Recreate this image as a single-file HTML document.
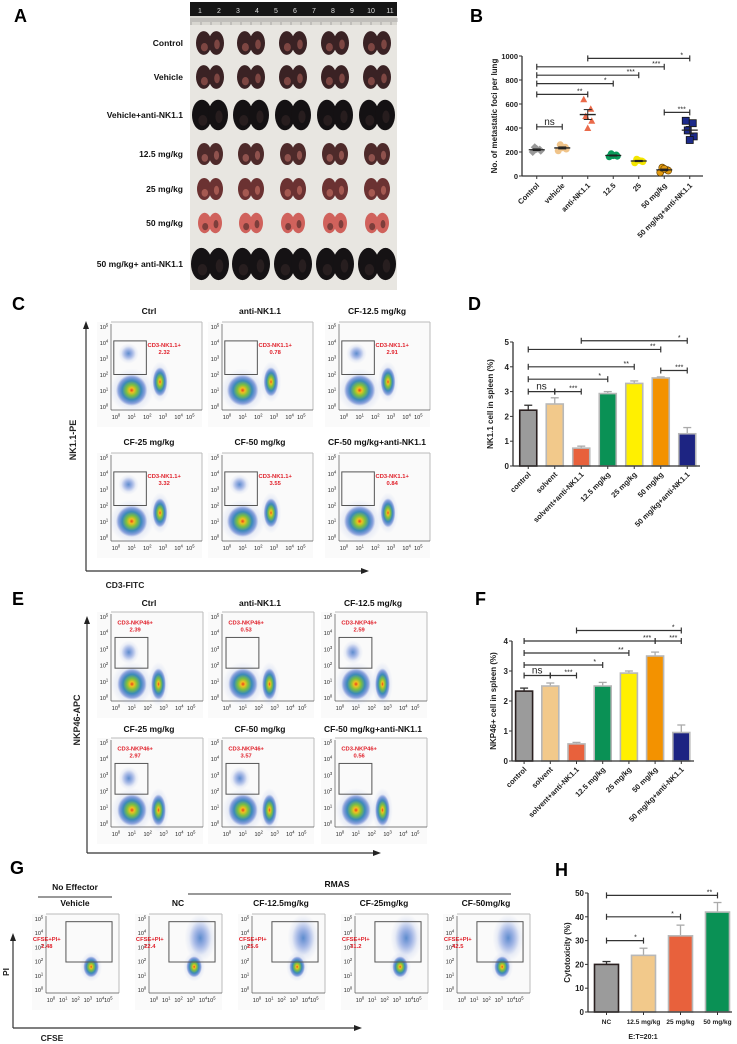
<!DOCTYPE html>
<html><head><meta charset="utf-8"><style>
html,body{margin:0;padding:0;background:#fff}
svg{display:block;font-family:"Liberation Sans",Arial,sans-serif}
</style></head><body>
<svg id="fig" width="737" height="1044" viewBox="0 0 737 1044" xmlns="http://www.w3.org/2000/svg">
<defs>
<radialGradient id="dens" cx="50%" cy="50%" r="50%">
<stop offset="0" stop-color="#e8401c"/><stop offset="0.15" stop-color="#f0c020"/><stop offset="0.35" stop-color="#7cc040"/><stop offset="0.6" stop-color="#3a8ab8"/><stop offset="0.85" stop-color="#3c64c8" stop-opacity="0.5"/><stop offset="1" stop-color="#5a78d0" stop-opacity="0"/>
</radialGradient>
<radialGradient id="densB" cx="50%" cy="50%" r="50%">
<stop offset="0" stop-color="#4a7fc8" stop-opacity="0.8"/><stop offset="0.5" stop-color="#6a8ad8" stop-opacity="0.45"/><stop offset="1" stop-color="#8aa0e0" stop-opacity="0"/>
</radialGradient>
</defs>
</svg>
<script>
// ---------- data ----------
const bCats=['Control','vehicle','anti-NK1.1','12.5','25','50 mg/kg','50 mg/kg+anti-NK1.1'];
const bPts=[[200,220,240,210,225],[210,240,260,225,235],[640,560,500,460,400],[160,175,185,165,170],[110,125,140,120,130],[30,50,70,45,60],[460,440,380,330,300]];
const bTicks=[0,200,400,600,800,1000];
const bSig=[[0,1,410,'ns'],[0,2,680,'**'],[0,3,770,'*'],[0,4,840,'***'],[0,5,910,'***'],[2,6,980,'*'],[5,6,530,'***']];
const dCats=['control','solvent','solvent+anti-NK1.1','12.5 mg/kg','25 mg/kg','50 mg/kg','50 mg/kg+anti-NK1.1'];
const dVals=[2.25,2.5,0.72,2.92,3.33,3.55,1.3];
const dErr=[0.2,0.25,0.08,0.08,0.1,0.04,0.25];
const dTicks=[0,1,2,3,4,5];
const dSig=[[0,1,3,'ns'],[1,2,3,'***'],[0,3,3.5,'*'],[0,4,4,'**'],[0,5,4.7,'**'],[2,6,5.05,'*'],[5,6,3.85,'***']];
const fVals=[2.33,2.5,0.57,2.5,2.93,3.5,0.95];
const fErr=[0.1,0.1,0.05,0.12,0.07,0.13,0.25];
const fTicks=[0,1,2,3,4];
const fSig=[[0,1,2.85,'ns'],[1,2,2.85,'***'],[0,3,3.2,'*'],[0,4,3.6,'**'],[0,5,4,'***'],[5,6,4,'***'],[2,6,4.35,'*']];
const hCats=['NC','12.5 mg/kg','25 mg/kg','50 mg/kg'];
const hVals=[20,23.8,32,42];
const hErr=[1.2,3,4.5,4];
const hTicks=[0,10,20,30,40,50];
const hSig=[[0,1,30,'*'],[0,2,40,'*'],[0,3,49,'**']];
const cTitles=['Ctrl','anti-NK1.1','CF-12.5 mg/kg','CF-25 mg/kg','CF-50 mg/kg','CF-50 mg/kg+anti-NK1.1'];
const cPct=['2.32','0.78','2.91','3.32','3.55','0.84'];
const ePct=['2.39','0.53','2.59','2.97','3.57','0.56'];
const gTitles=['Vehicle','NC','CF-12.5mg/kg','CF-25mg/kg','CF-50mg/kg'];
const gPct=['2.48','22.4','25.6','31.2','42.5'];

const NS='http://www.w3.org/2000/svg';
const svg=document.getElementById('fig');
function mk(tag,attrs,name,parent){
  const el=document.createElementNS(NS,tag);
  for(const k in attrs) el.setAttribute(k,attrs[k]);
  
  
  (parent||svg).appendChild(el);
  return el;
}
function txt(x,y,s,name,o){
  o=o||{};
  const a={x:x,y:y,'font-size':o.fs||8,'font-weight':o.fw||'bold',fill:o.fill||'#222','text-anchor':o.anchor||'middle'};
  if(o.rot!==undefined) a.transform='rotate('+o.rot+' '+x+' '+y+')';
  const t=mk('text',a,name,o.parent);
  t.textContent=s;
  return t;
}
function line(x1,y1,x2,y2,name,o){
  o=o||{};
  return mk('line',{x1:x1,y1:y1,x2:x2,y2:y2,stroke:o.c||'#333','stroke-width':o.w||1},name,o.parent);
}
[['A',14,22],['B',470,22],['C',12,310],['D',468,310],['E',12,605],['F',475,605],['G',10,874],['H',555,876]].forEach(p=>txt(p[1],p[2],p[0],'panel-letter-'+p[0].toLowerCase(),{fs:18,anchor:'start',fill:'#000'}));

// ---------- Panel A ----------
mk('rect',{x:190,y:2,width:207,height:288,fill:'#e8e6e1'},'lung-photo-background');
mk('rect',{x:190,y:2,width:207,height:14,fill:'#161616'},'ruler-band');
mk('rect',{x:190,y:16,width:207,height:9,fill:'#d8d6d0'},'ruler-scale');
for(let i=0;i<11;i++){txt(200+i*19,13,String(i+1),'ruler-number',{fs:7,fw:'normal',fill:'#ddd'});}
for(let i=0;i<104;i++){line(191+i*2,18,191+i*2,i%5==0?25:22,'ruler-tick',{c:'#777',w:0.5});}
const rowLabels=['Control','Vehicle','Vehicle+anti-NK1.1','12.5 mg/kg','25 mg/kg','50 mg/kg','50 mg/kg+ anti-NK1.1'];
const rowY=[43,77,115,154,189,223,264];
const rowCol=['#3a2224','#3a2224','#141113','#4e2a2a','#6b3232','#d0625c','#151214'];
const spotCol=['#c06a60','#c06a60','#3a2a2a','#d07a70','#e08070','#2a1a1a','#3a2a2a'];
const rowSz=[14,14,18,13,13,12,19];
const colX=[210,251,293,335,377];
rowLabels.forEach((s,r)=>{
  txt(183,rowY[r]+3,s,'lung-row-label',{fs:8.5,anchor:'end',fill:'#111'});
  colX.forEach(cx=>{
    const sz=rowSz[r];
    mk('ellipse',{cx:cx-sz*0.45,cy:rowY[r],rx:sz*0.55,ry:sz*0.85,fill:rowCol[r]},'lung-left-lobe');
    mk('ellipse',{cx:cx+sz*0.45,cy:rowY[r],rx:sz*0.55,ry:sz*0.85,fill:rowCol[r]},'lung-right-lobe');
    mk('ellipse',{cx:cx-sz*0.4,cy:rowY[r]+sz*0.3,rx:sz*0.25,ry:sz*0.3,fill:spotCol[r],opacity:0.5},'lung-spot');
    mk('ellipse',{cx:cx+sz*0.5,cy:rowY[r]+sz*0.1,rx:sz*0.2,ry:sz*0.35,fill:spotCol[r],opacity:0.5},'lung-spot');
  });
});

function yAxis(ax,name,ticks,yScale,yMin,yMax,xEnd,label,labX,fsTick){
  line(ax,yScale(yMax),ax,yScale(yMin),name+'-y-axis',{w:1.3});
  line(ax,yScale(yMin),xEnd,yScale(yMin),name+'-x-axis',{w:1.3});
  ticks.forEach(t=>{
    line(ax-3,yScale(t),ax,yScale(t),name+'-y-tick');
    txt(ax-4,yScale(t)+3,String(t),name+'-y-tick-label',{fs:fsTick||8,anchor:'end'});
  });
  const mid=(yScale(yMin)+yScale(yMax))/2;
  txt(labX,mid,label,name+'-y-axis-title',{fs:8,rot:-90});
}
function sig(name,xs,ys,arr){
  arr.forEach(s=>{
    const x1=xs(s[0]),x2=xs(s[1]),y=ys(s[2]);
    line(x1,y,x2,y,name+'-sig-bracket',{w:1.2});
    line(x1,y-3,x1,y+3,name+'-sig-cap',{w:1.2});
    line(x2,y-3,x2,y+3,name+'-sig-cap',{w:1.2});
    if(s[3]=='ns') txt((x1+x2)/2,y-2,'ns',name+'-sig-label',{fs:10,fw:'normal'});
    else txt(x2-8,y-1,s[3],name+'-sig-label',{fs:7,fw:'normal'});
  });
}
function catLabels(name,xs,cats,y,fs){
  cats.forEach((c,i)=>txt(xs(i)+3,y,c,name+'-x-tick-label',{fs:fs||8,anchor:'end',rot:-45}));
}

// ---------- Panel B ----------
(function(){
  const ax=522,y0=176,y1=56,xs0=524,step=25.5;
  const ys=v=>y0-(v/1000)*(y0-y1);
  const xs=i=>xs0+step*(i+0.5);
  yAxis(ax,'panel-b',bTicks,ys,0,1000,703,'No. of metastatic foci per lung',497,7.5);
  bCats.forEach((c,i)=>line(xs(i),y0,xs(i),y0+3,'panel-b-x-tick'));
  catLabels('panel-b',xs,bCats,y0+10,7.5);
  const cols=['#999','#f0c48a','#ea6a4a','#0a9a5a','#f4e600','#e39a10','#1c2a8a'];
  const off=[-4,3,-2,4,0];
  bPts.forEach((g,i)=>{
    g.forEach((v,k)=>{
      const x=xs(i)+off[k],y=ys(v);
      if(i==2) mk('path',{d:`M${x} ${y-3.5}L${x+3.5} ${y+3}L${x-3.5} ${y+3}Z`,fill:cols[i]},'panel-b-point');
      else if(i==6) mk('rect',{x:x-3.5,y:y-3.5,width:7,height:7,fill:cols[i],stroke:'#111','stroke-width':0.8},'panel-b-point');
      else if(i==0) mk('path',{d:`M${x} ${y-4}L${x+4} ${y}L${x} ${y+4}L${x-4} ${y}Z`,fill:cols[i]},'panel-b-point');
      else mk('circle',{cx:x,cy:y,r:3.5,fill:cols[i],stroke:i==5?'#5a3a00':'none','stroke-width':0.6},'panel-b-point');
    });
    const m=g.reduce((a,b)=>a+b,0)/g.length;
    const sd=Math.sqrt(g.reduce((a,b)=>a+(b-m)*(b-m),0)/(g.length-1))/Math.sqrt(g.length);
    line(xs(i)-8,ys(m),xs(i)+8,ys(m),'panel-b-mean-line',{w:1.3,c:'#222'});
    line(xs(i),ys(m-sd),xs(i),ys(m+sd),'panel-b-sem',{c:'#222'});
    line(xs(i)-4,ys(m+sd),xs(i)+4,ys(m+sd),'panel-b-sem-cap',{c:'#222'});
    line(xs(i)-4,ys(m-sd),xs(i)+4,ys(m-sd),'panel-b-sem-cap',{c:'#222'});
  });
  sig('panel-b',xs,ys,bSig);
})();

const barCols=['#9b9b9b','#f2c98b','#e8613c','#0a9155','#fff000','#f39200','#1d2482'];
function bars(name,cats,vals,errs,ticks,ax,y0,yTop,yMax,xs0,step,xEnd,bw,label,labX,sigs,cols,catY,catFs,horizLabels){
  const ys=v=>y0-(v/yMax)*(y0-yTop);
  const xs=i=>xs0+step*(i+0.5);
  vals.forEach((v,i)=>{
    const e=errs[i];
    line(xs(i),ys(v),xs(i),ys(v+e),name+'-error-bar',{w:1.3,c:i==0?'#333':'#aaa'});
    line(xs(i)-4,ys(v+e),xs(i)+4,ys(v+e),name+'-error-cap',{w:1.3,c:i==0?'#333':'#aaa'});
    mk('rect',{x:xs(i)-bw/2,y:ys(v),width:bw,height:y0-ys(v),fill:cols[i],stroke:i==0?'#2a2020':'#b8b8b8','stroke-width':1.6},name+'-bar-'+i);
  });
  yAxis(ax,name,ticks,ys,0,yMax,xEnd,label,labX,8);
  cats.forEach((c,i)=>line(xs(i),y0,xs(i),y0+3,name+'-x-tick'));
  if(horizLabels) cats.forEach((c,i)=>txt(xs(i),catY,c,name+'-x-tick-label',{fs:catFs}));
  else catLabels(name,xs,cats,catY,catFs);
  sig(name,xs,ys,sigs);
}
bars('panel-d',dCats,dVals,dErr,dTicks,513,466,342,5,515,26.5,700,17,'NK1.1 cell in spleen (%)',493,dSig,barCols,475,7.5);
bars('panel-f',dCats,fVals,fErr,fTicks,512,761,641,4,511,26.2,694,17,'NKP46+ cell in spleen (%)',496,fSig,barCols,770,7.5);
bars('panel-h',hCats,hVals,hErr,hTicks,588,1012,893,50,588,37,732,24,'Cytotoxicity (%)',570,hSig,['#9b9b9b','#f2c98b','#e8613c','#0a9155'],1024,6.5,true);
txt(643,1039,'E:T=20:1','panel-h-x-axis-title',{fs:7});

function supTick(x,y,p,name,fs){
  const t=txt(x,y,'10','flow-tick-label',{fs:fs,fw:'normal',anchor:'middle'});
  const s=document.createElementNS(NS,'tspan');
  s.setAttribute('dy','-2.5');s.setAttribute('font-size',fs*0.75);s.textContent=String(p);
  t.appendChild(s);
}
function flow(x,y,w,h,clusters,gate,lab,lx,ly,title,tx,ty,name){
  mk('rect',{x:x,y:y,width:w,height:h,fill:'#fafafa'},name+'-background');
  const l=x+14,b=y+h-17;
  line(x+w,y,x+w,b,name+'-frame',{c:'#bbb'});line(l,y,x+w,y,name+'-frame',{c:'#bbb'});
  line(l,y+2,l,b,name+'-y-axis',{c:'#555',w:0.7});line(l,b,x+w,b,name+'-x-axis',{c:'#555',w:0.7});
  for(let k=0;k<6;k++){
    const yy=b-3-k*(b-y-8)/5;
    supTick(x+7,yy+2,k,name,5.5);
    const xx=l+5+k*(x+w-l-8)/5.3 + (k==5?-4:0);
    supTick(xx,b+9,k,name,5.5);
  }
  clusters.forEach(c=>{
    mk('ellipse',{cx:x+c[0]*w,cy:y+c[1]*h,rx:c[2]*w*1.4,ry:c[3]*h*1.4,fill:'url(#densB)',opacity:0.55},name+'-scatter-halo');
    mk('ellipse',{cx:x+c[0]*w,cy:y+c[1]*h,rx:c[2]*w,ry:c[3]*h,fill:c[4]?'url(#densB)':'url(#dens)'},name+'-cluster');
  });
  mk('rect',{x:x+gate[0]*w,y:y+gate[1]*h,width:(gate[2]-gate[0])*w,height:(gate[3]-gate[1])*h,fill:'none',stroke:'#555','stroke-width':1},name+'-gate');
  txt(x+lx*w,y+ly*h,lab[0],name+'-gate-label',{fs:5.8,fill:'#e0202a'});
  txt(x+lx*w,y+ly*h+7,lab[1],name+'-gate-value',{fs:5.8,fill:'#e0202a'});
  txt(tx,ty,title,name+'-title',{fs:8.5,fill:'#111'});
}
const cX=[97,208,325],cY=[322,453];
cTitles.forEach((t,i)=>{
  const x=cX[i%3],y=cY[Math.floor(i/3)];
  const nk=['0.78','0.84'].indexOf(cPct[i])<0;
  const cl=[[0.33,0.65,0.15,0.15],[0.6,0.57,0.07,0.14]];
  if(nk) cl.push([0.3,0.3,0.07,0.07,1]);
  flow(x,y,105,105,cl,[0.16,0.18,0.47,0.5],['CD3-NK1.1+',cPct[i]],0.64,0.24,t,x+52,y-8,'panel-c-plot-'+i);
});
line(86,325,86,571,'panel-c-y-arrow',{w:1.2});mk('path',{d:'M83 329L86 321L89 329Z',fill:'#222'},'panel-c-arrow-head');
line(86,571,365,571,'panel-c-x-arrow',{w:1.2});mk('path',{d:'M361 568L369 571L361 574Z',fill:'#222'},'panel-c-arrow-head');
txt(76,440,'NK1.1-PE','panel-c-y-title',{fs:9,rot:-90});
txt(125,588,'CD3-FITC','panel-c-x-title',{fs:8.5});
const eX=[97,208,321],eY=[612,738];
cTitles.forEach((t,i)=>{
  const x=eX[i%3],y=eY[Math.floor(i/3)];
  const nk=['0.53','0.56'].indexOf(ePct[i])<0;
  const cl=[[0.33,0.68,0.14,0.15],[0.58,0.68,0.07,0.15]];
  if(nk) cl.push([0.3,0.38,0.07,0.08,1]);
  flow(x,y,106,106,cl,[0.17,0.24,0.48,0.53],['CD3-NKP46+',ePct[i]],0.36,0.12,t,x+52,y-6,'panel-e-plot-'+i);
});
line(87,620,87,853,'panel-e-y-arrow',{w:1.2});mk('path',{d:'M84 624L87 616L90 624Z',fill:'#222'},'panel-e-arrow-head');
line(87,853,377,853,'panel-e-x-arrow',{w:1.2});mk('path',{d:'M373 850L381 853L373 856Z',fill:'#222'},'panel-e-arrow-head');
txt(80,720,'NKP46-APC','panel-e-y-title',{fs:9,rot:-90});
const gX=[32,135,238,341,443];
gTitles.forEach((t,i)=>{
  const x=gX[i];
  const cl=[[0.68,0.55,0.09,0.11]];
  if(i>0) cl.push([0.75,0.25,0.13,0.18,1]);
  flow(x,914,87,96,cl,[0.39,0.08,0.92,0.5],['CFSE+PI+',gPct[i]],0.17,0.28,t,x+43,906,'panel-g-plot-'+i);
});
txt(75,890,'No Effector','panel-g-no-effector-label',{fs:8.5,fill:'#111'});
line(38,897,112,897,'panel-g-no-effector-line',{w:1});
txt(337,887,'RMAS','panel-g-rmas-label',{fs:8.5,fill:'#111'});
line(188,894,511,894,'panel-g-rmas-line',{w:1});
line(13,937,13,1028,'panel-g-y-arrow',{w:1.2});mk('path',{d:'M10 941L13 933L16 941Z',fill:'#222'},'panel-g-arrow-head');
line(13,1028,358,1028,'panel-g-x-arrow',{w:1.2});mk('path',{d:'M354 1025L362 1028L354 1031Z',fill:'#222'},'panel-g-arrow-head');
txt(9,972,'PI','panel-g-y-title',{fs:8.5,rot:-90});
txt(52,1041,'CFSE','panel-g-x-title',{fs:8.5});
</script>
</body></html>
